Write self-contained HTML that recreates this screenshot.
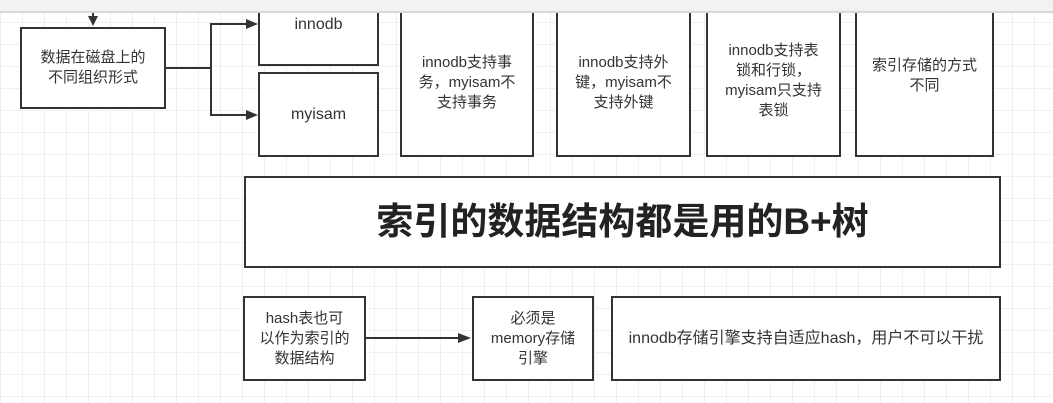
<!DOCTYPE html>
<html><head><meta charset="utf-8"><style>
html,body{margin:0;padding:0}
body{width:1053px;height:403px;position:relative;overflow:hidden;background-color:#fff;
background-image:linear-gradient(#f0f0f0 1px,transparent 1px),linear-gradient(90deg,#f0f0f0 1px,transparent 1px);
background-size:22px 22px;font-family:"Liberation Sans","Noto Sans CJK SC",sans-serif;color:#333}
.tb{position:absolute;left:0;top:0;width:1053px;height:11px;background:#f2f2f2;border-bottom:2px solid #d8d8d8}
.b{position:absolute;box-sizing:border-box;border:2px solid #333;background:#fff;display:flex;align-items:center;justify-content:center;text-align:center;font-size:15px;line-height:20px}
</style></head><body>
<div class="tb"></div>
<div class="b" style="left:20px;top:27px;width:146px;height:82px;">数据在磁盘上的<br>不同组织形式</div>
<div class="b" style="left:258px;top:4px;width:121px;height:62px;align-items:flex-start;padding-top:9px;font-size:16px">innodb</div>
<div class="b" style="left:258px;top:72px;width:121px;height:85px;font-size:16px">myisam</div>
<div class="b" style="left:400px;top:4px;width:134px;height:153px;padding-top:4px">innodb支持事<br>务，myisam不<br>支持事务</div>
<div class="b" style="left:556px;top:4px;width:135px;height:153px;padding-top:4px">innodb支持外<br>键，myisam不<br>支持外键</div>
<div class="b" style="left:706px;top:4px;width:135px;height:153px;padding-top:0px">innodb支持表<br>锁和行锁，<br>myisam只支持<br>表锁</div>
<div class="b" style="left:855px;top:4px;width:139px;height:153px;padding-bottom:10px">索引存储的方式<br>不同</div>
<div class="tb" style="z-index:2"></div>
<div class="b" style="left:244px;top:176px;width:757px;height:92px;font-size:37px;line-height:44px;font-weight:bold;color:#222">索引的数据结构都是用的B+树</div>
<div class="b" style="left:243px;top:296px;width:123px;height:85px">hash表也可<br>以作为索引的<br>数据结构</div>
<div class="b" style="left:472px;top:296px;width:122px;height:85px">必须是<br>memory存储<br>引擎</div>
<div class="b" style="left:611px;top:296px;width:390px;height:85px;font-size:16px">innodb存储引擎支持自适应hash，用户不可以干扰</div>
<svg width="1053" height="403" style="position:absolute;left:0;top:0;z-index:3" >
<g stroke="#333" stroke-width="2" fill="none">
<line x1="93" y1="13" x2="93" y2="18"/>
<polyline points="166,68 211,68"/>
<polyline points="248,24 211,24 211,115 248,115"/>
<line x1="366" y1="338" x2="460" y2="338"/>
</g>
<g fill="#333">
<polygon points="88,16 98,16 93,26"/>
<polygon points="246,19 258,24 246,29"/>
<polygon points="246,110 258,115 246,120"/>
<polygon points="458,333 471,338 458,343"/>
</g>
</svg>
</body></html>
